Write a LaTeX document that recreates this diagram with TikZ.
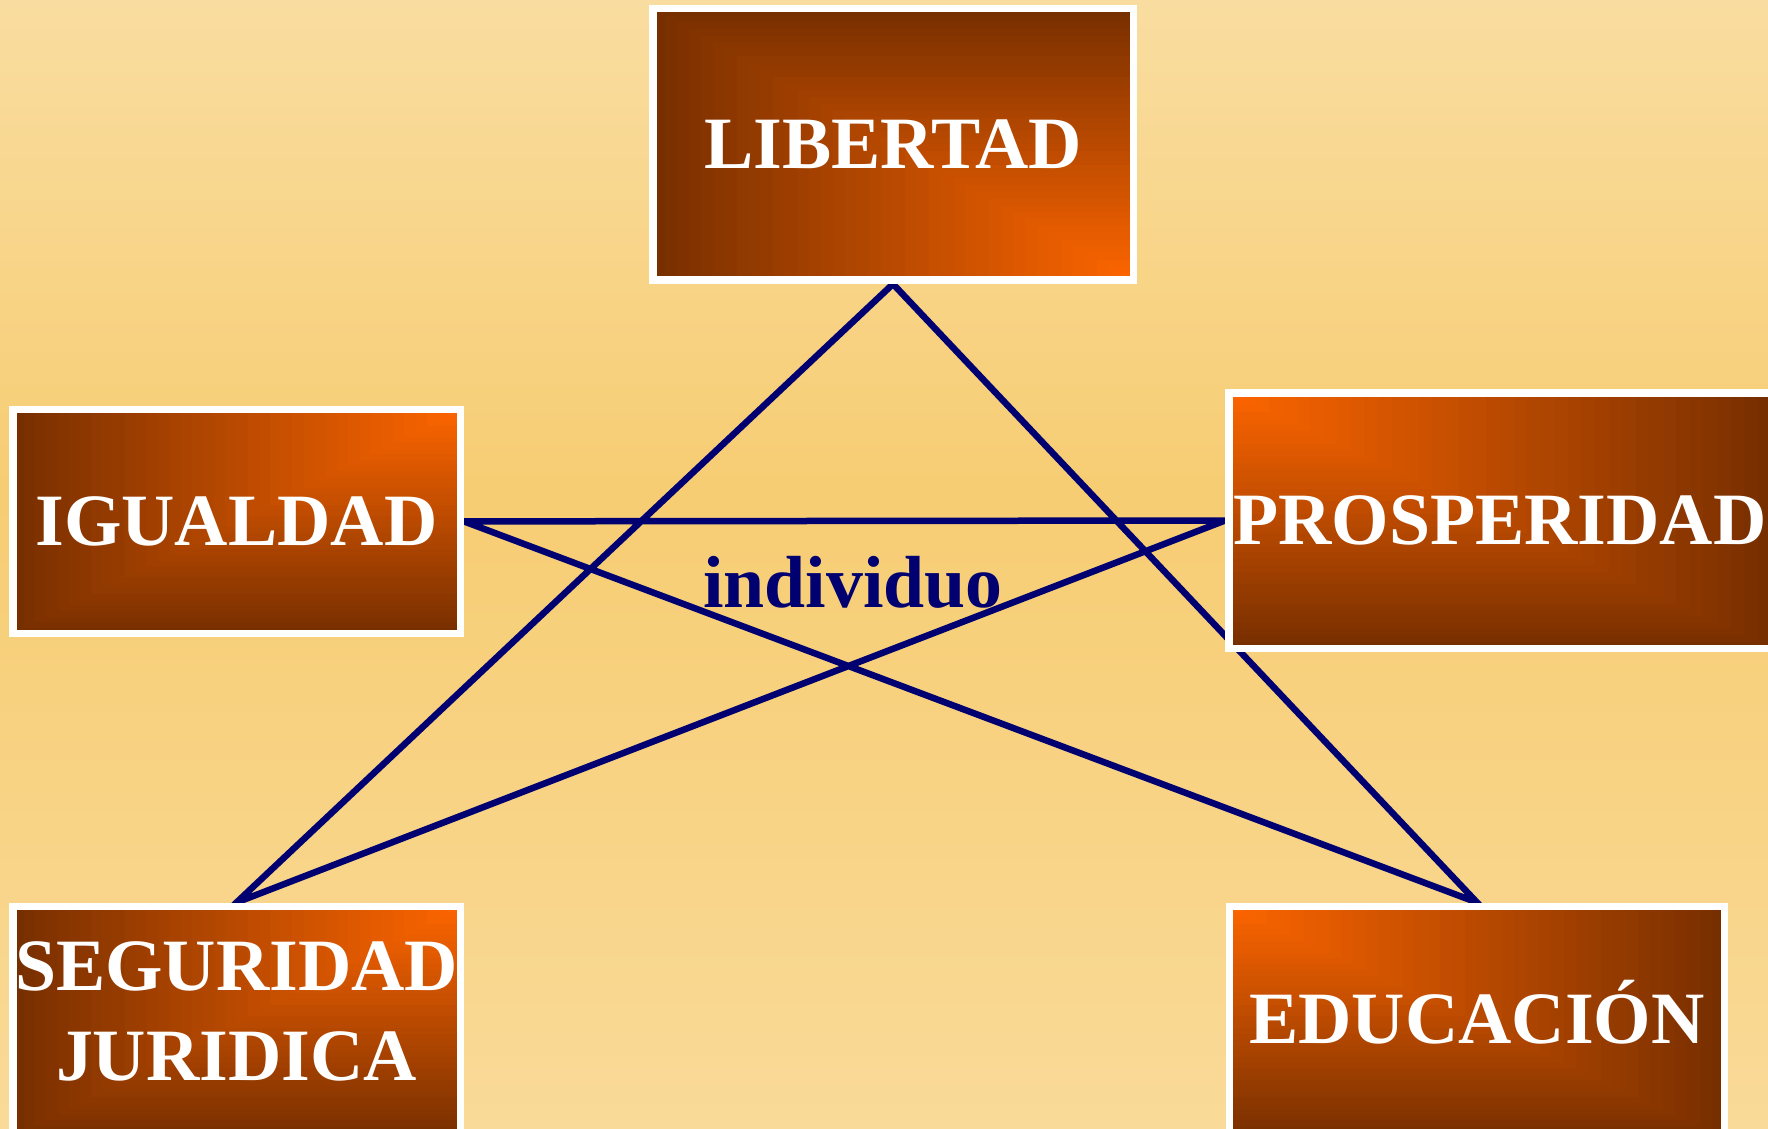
\documentclass[tikz,border=0pt]{standalone}
\usepackage{fontspec}
\setmainfont{Liberation Serif}
\usepackage{tikz}
\usetikzlibrary{calc, backgrounds}
\definecolor{paleTop}{RGB}{249,221,160}
\definecolor{paleMid}{RGB}{247,205,115}
\definecolor{paleBot}{RGB}{249,218,152}
\definecolor{rust}{RGB}{120,47,0}
\definecolor{blaze}{RGB}{255,102,0}
\definecolor{ink}{RGB}{0,0,112}
\tikzset{%
	box/.style = {draw = white, line width = 0.075cm, text = white, font = \fontsize{21}{25.6}\selectfont\bfseries, align = center, inner sep = 0pt},
	glow/.style 2 args = {path picture = {
		\foreach \k in {40,...,1}{
			\pgfmathsetmacro{\p}{2.5*\k}
			\fill [rust!\p!blaze] (path picture bounding box.#1) rectangle ($(path picture bounding box.#1)!\k/40!(path picture bounding box.#2)$);
		}}},
	star/.style = {draw = ink, line width = 0.065cm, line join = miter}
}
\begin{document}
\begin{tikzpicture}
		\useasboundingbox (0,0) rectangle (17.68,11.28);
		\node [box, glow = {south east}{north west}, minimum width = 4.805cm, minimum height = 2.715cm] (LIB) at (8.93,9.835) {LIBERTAD};
		\node [box, glow = {north east}{south west}, minimum width = 4.475cm, minimum height = 2.24cm] (IGU) at (2.365,6.066) {IGUALDAD};
		\node [box, glow = {north west}{south east}, minimum width = 5.425cm, minimum height = 2.555cm] (PRO) at (15.0,6.075) {PROSPERIDAD};
		\node [box, glow = {north east}{south west}, minimum width = 4.475cm, minimum height = 2.315cm, text depth = 0.22cm] (SEG) at (2.365,1.06) {SEGURIDAD\\JURIDICA};
		\node [box, glow = {north west}{south east}, minimum width = 4.95cm, minimum height = 2.315cm, text depth = 0.2cm] (EDU) at (14.77,1.06) {EDUCACIÓN};
		\node [anchor = base, text = ink, font = \fontsize{21}{25}\selectfont\bfseries] (IND) at (8.53,5.21) {individuo};
		\begin{scope}[on background layer]
		\shade [top color = paleTop, bottom color = paleMid] (0,6.38) rectangle (17.68,11.28);
		\shade [top color = paleMid, bottom color = paleBot] (0,0) rectangle (17.68,6.38);
		\path [star] (SEG.north) -- (LIB.south) -- (EDU.north) -- (IGU.east) -- (PRO.west) -- cycle;
		\end{scope}
\end{tikzpicture}
\end{document}
